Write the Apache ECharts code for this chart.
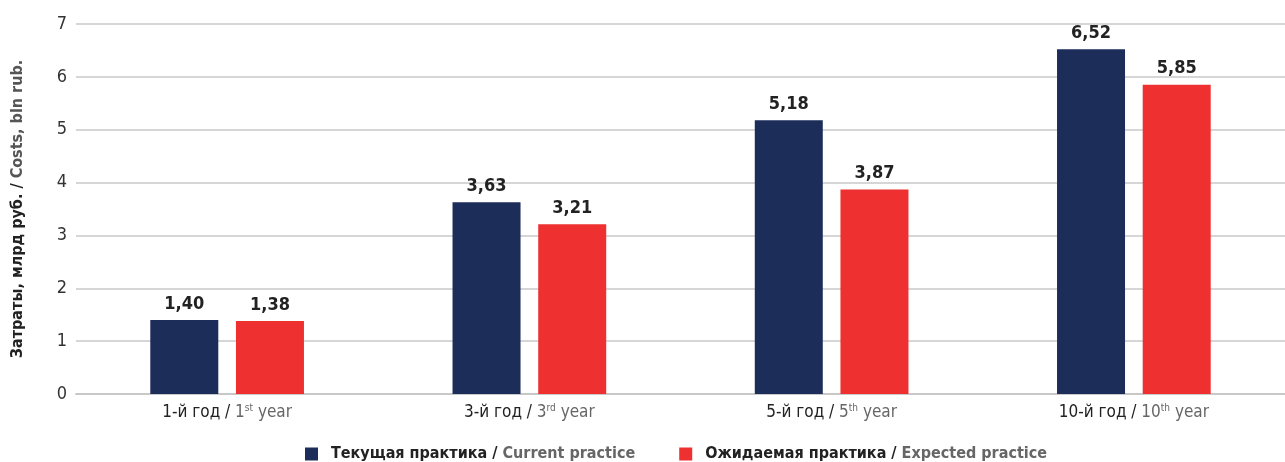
<!DOCTYPE html>
<html><head><meta charset="utf-8">
<script src="https://cdn.jsdelivr.net/npm/echarts@6/dist/echarts.min.js"></script>
<style>html,body{margin:0;padding:0;background:#fff}#c{width:1285px;height:462px}</style>
</head><body><div id="c"></div>
<script>
const catRu = ['1-й год / ', '3-й год / ', '5-й год / ', '10-й год / '];
const catNum = ['1', '3', '5', '10'];
const catSup = ['st', 'rd', 'th', 'th'];
const current = [1.40, 3.63, 5.18, 6.52];
const expected = [1.38, 3.21, 3.87, 5.85];
const yTicks = [0, 1, 2, 3, 4, 5, 6, 7];

const FONT = '"DejaVu Sans Condensed", "Roboto", sans-serif';
const chart = echarts.init(document.getElementById('c'));
const cats = catRu.map((r, i) => i);
const labelStyle = {
  show: true, position: 'top', distance: 7,
  fontFamily: FONT, fontSize: 18, fontWeight: 'bold', color: '#222',
  formatter: p => p.value.toFixed(2).replace('.', ',')
};
chart.setOption({
  animation: false,
  textStyle: { fontFamily: FONT },
  grid: { left: 76, right: 0, top: 24, bottom: 68, outerBoundsMode: 'none', containLabel: false },
  legend: {
    top: 441, left: 300, itemWidth: 13, itemHeight: 13, itemGap: 44,
    icon: 'rect',
    textStyle: {
      fontFamily: FONT, fontSize: 16, fontWeight: 'bold', color: '#222', padding: [0, 0, 0, 8],
      rich: {
        ru: { fontFamily: FONT, fontSize: 16, fontWeight: 'bold', color: '#222' },
        en: { fontFamily: FONT, fontSize: 16, fontWeight: 'bold', color: '#666' }
      }
    },
    formatter: n => n === 'cur' ? '{ru|Текущая практика / }{en|Current practice}' : '{ru|Ожидаемая практика / }{en|Expected practice}',
    data: ['cur', 'exp']
  },
  xAxis: {
    type: 'category', data: cats,
    axisLine: { lineStyle: { color: '#c8c8c8', width: 2 } },
    axisTick: { show: false },
    axisLabel: {
      interval: 0, margin: 9,
      formatter: v => '{ru|' + catRu[v] + '}{en|' + catNum[v] + '}{sup|' + catSup[v] + '}{en| year}',
      rich: {
        ru: { fontFamily: FONT, fontSize: 17, color: '#222' },
        en: { fontFamily: FONT, fontSize: 17, color: '#666' },
        sup: { fontFamily: FONT, fontSize: 10, color: '#666', padding: [0, 0, 9, 0] }
      }
    }
  },
  yAxis: {
    type: 'value', min: yTicks[0], max: yTicks[yTicks.length - 1], interval: 1,
    name: '{ru|Затраты, млрд руб. / }{en|Costs, bln rub.}',
    nameLocation: 'middle', nameGap: 50, nameRotate: 90,
    nameTextStyle: {
      rich: {
        ru: { fontFamily: FONT, fontSize: 16, fontWeight: 'bold', color: '#222' },
        en: { fontFamily: FONT, fontSize: 16, fontWeight: 'bold', color: '#555' }
      }
    },
    axisLine: { show: false }, axisTick: { show: false },
    axisLabel: { fontFamily: FONT, fontSize: 18, color: '#333', margin: 9 },
    splitLine: { lineStyle: { color: '#c8c8c8', width: 1.5 } }
  },
  series: [
    { name: 'cur', type: 'bar', data: current, barWidth: 68, barGap: '26%',
      itemStyle: { color: '#1c2d59' }, label: labelStyle },
    { name: 'exp', type: 'bar', data: expected, barWidth: 68,
      itemStyle: { color: '#ee3030' }, label: labelStyle }
  ]
});
</script></body></html>
